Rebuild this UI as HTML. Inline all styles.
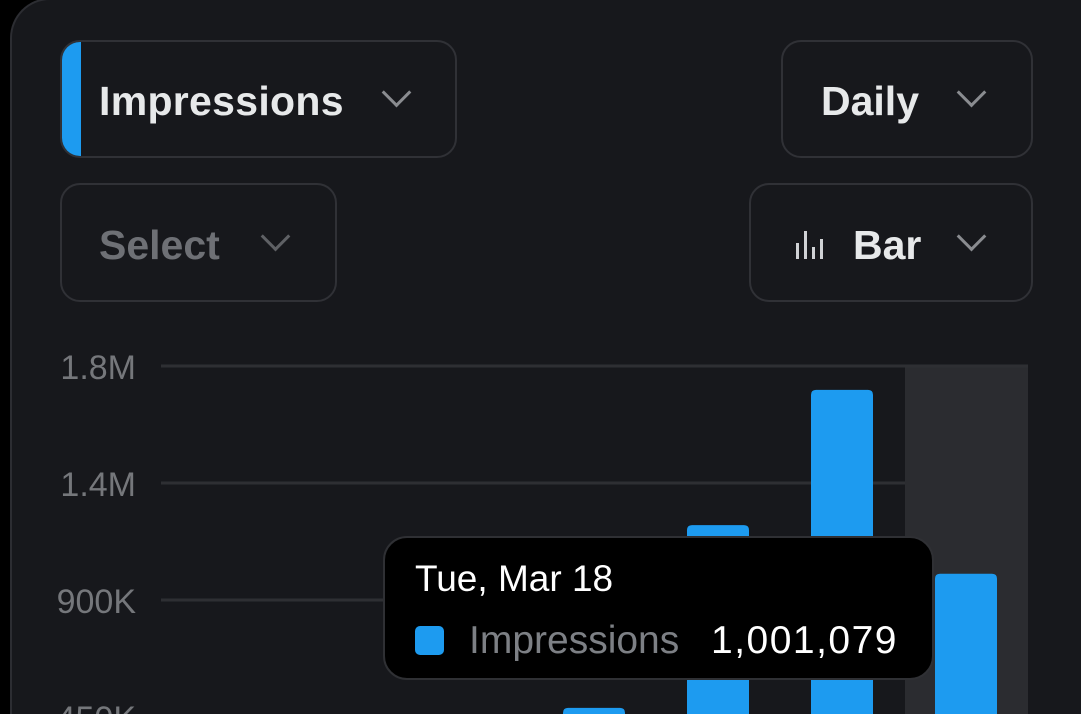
<!DOCTYPE html>
<html><head><meta charset="utf-8"><style>
html,body{margin:0;padding:0;background:#000;width:1081px;height:714px;overflow:hidden;font-family:"Liberation Sans",sans-serif;position:relative}
.card{position:absolute;left:10px;top:-2px;width:1071px;height:716px;background:#17181c;border:2px solid #2c2d32;border-right:none;border-bottom:none;border-radius:40px 0 0 0;box-sizing:border-box}
.dd{position:absolute;border:2px solid #303136;border-radius:20px;box-sizing:border-box;background:#17181c;overflow:hidden}
.lbl{position:absolute;font-weight:bold;font-size:41px;color:#e7e9ea;line-height:1}
.chev{position:absolute;width:18px;height:18px;border-right:3px solid #8a8c90;border-bottom:3px solid #8a8c90;transform:rotate(45deg)}
</style></head><body>
<div style="position:absolute;left:0;top:0;width:1081px;height:714px;overflow:hidden">
<div class="card"></div>

<div class="dd" style="left:60px;top:40px;width:397px;height:118px">
  <div style="position:absolute;left:0;top:0;width:19px;height:100%;background:#1d9bf0"></div>
  <div class="lbl" style="left:37px;top:39px;letter-spacing:0.3px">Impressions</div>
  <div class="chev" style="left:324px;top:40px"></div>
</div>
<div class="dd" style="left:781px;top:40px;width:252px;height:118px">
  <div class="lbl" style="left:38px;top:39px">Daily</div>
  <div class="chev" style="left:178px;top:40px"></div>
</div>
<div class="dd" style="left:60px;top:183px;width:277px;height:119px">
  <div class="lbl" style="left:37px;top:40px;color:#6e7075">Select</div>
  <div class="chev" style="left:203px;top:41px;border-color:#5f6165"></div>
</div>
<div class="dd" style="left:749px;top:183px;width:284px;height:119px">
  <svg style="position:absolute;left:44px;top:44px" width="30" height="32" viewBox="0 0 30 32">
    <rect x="1" y="14" width="3" height="16" fill="#d0d2d5"/><rect x="9" y="2" width="3" height="28" fill="#d0d2d5"/><rect x="17" y="18" width="3" height="12" fill="#d0d2d5"/><rect x="25" y="10" width="3" height="20" fill="#d0d2d5"/>
  </svg>
  <div class="lbl" style="left:102px;top:40px">Bar</div>
  <div class="chev" style="left:210px;top:41px"></div>
</div>

<svg id="chart" style="position:absolute;left:0;top:0;overflow:hidden" width="1081" height="714"></svg>

<div style="position:absolute;left:383px;top:536px;width:551px;height:144px;box-sizing:border-box;background:#000;border:2px solid #2f3034;border-radius:24px">
  <div style="position:absolute;left:30px;top:20px;font-size:37px;color:#fff">Tue, Mar 18</div>
  <div style="position:absolute;left:30px;top:88px;width:29px;height:29px;border-radius:5px;background:#1d9bf0"></div>
  <div style="position:absolute;left:84px;top:81px;font-size:39px;color:#7d8085">Impressions</div>
  <div style="position:absolute;left:326px;top:81px;font-size:39px;color:#fff;letter-spacing:1.5px">1,001,079</div>
</div>
</div>

<script>
const categories = ["Mar 12","Mar 13","Mar 14","Mar 15","Mar 16","Mar 17","Mar 18"];
const impressions = [300000, 220000, 350000, 485000, 1188000, 1708000, 1001079];
const tickValues = [1800000, 1350000, 900000, 450000];
const tickLabels = ["1.8M","1.4M","900K","450K"];
const highlightIndex = 6;

const NS="http://www.w3.org/2000/svg";
const svg=document.getElementById('chart');
const y0=834, pxPerUnit=117/450000, yBottom=714;
const yScale=v=>y0-v*pxPerUnit;
const bandW=124, lastCenter=966;
const xCenter=i=>lastCenter-(categories.length-1-i)*bandW;
function mk(t,a){const e=document.createElementNS(NS,t);for(const k in a)e.setAttribute(k,a[k]);svg.appendChild(e);return e;}

const hlTop=yScale(tickValues[0]);
const hl=mk('rect',{x:xCenter(highlightIndex)-bandW/2+1,y:hlTop,width:bandW-1,height:yBottom-hlTop,fill:'#2b2c30'});



tickValues.forEach((v,i)=>{
  const gl=mk('line',{x1:161,x2:905,y1:yScale(v),y2:yScale(v),stroke:'#2e2f33','stroke-width':3});
  
  
  const tx=mk('text',{x:136,y:yScale(v)+13,'text-anchor':'end','font-size':34,fill:'#75777b','font-family':'Liberation Sans, sans-serif'});
  tx.textContent=tickLabels[i];
  
  
});
const gtop=mk('line',{x1:905,x2:1028,y1:yScale(tickValues[0]),y2:yScale(tickValues[0]),stroke:'#2e2f33','stroke-width':3});



impressions.forEach((v,i)=>{
  const top=yScale(v);
  if(top>=yBottom) return;
  const c=xCenter(i);
  const b=mk('path',{d:`M${c-31},${yBottom} V${top+5} Q${c-31},${top} ${c-26},${top} H${c+26} Q${c+31},${top} ${c+31},${top+5} V${yBottom} Z`,fill:'#1d9bf0'});
  
  
});
</script>
</body></html>
